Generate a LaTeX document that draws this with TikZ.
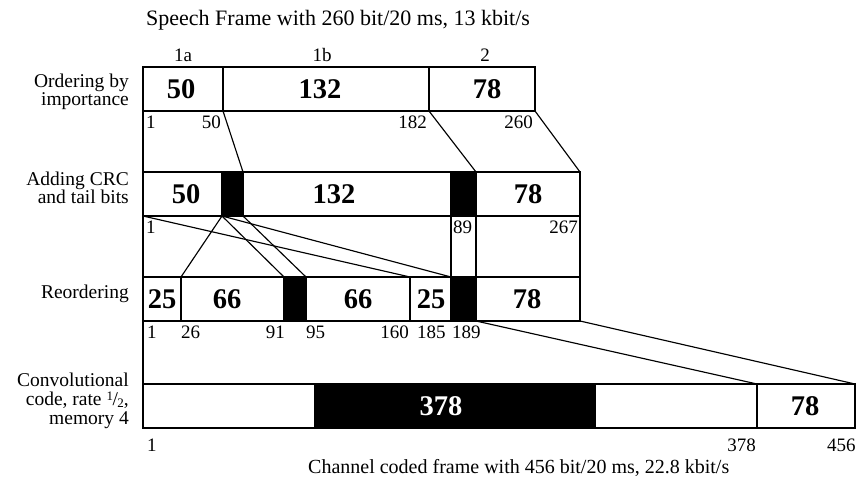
\documentclass[tikz,border=0pt]{standalone}
\usepackage{fontspec}
\setmainfont{Liberation Serif}
\newcommand\fsz[1]{\fontsize{#1}{#1}\selectfont}
\newcommand\halffrac{\raisebox{4.5pt}{\fsz{13}1}\kern-0.5pt/\kern-0.5pt\raisebox{-2pt}{\fsz{13}2}}
\tikzset{
  seg/.style={draw=black, line width=1.15pt, rectangle, inner sep=0pt, outer sep=0pt, anchor=north west, minimum height=44pt},
  blk/.style={seg, fill=black},
  num/.style={font=\fsz{28.5}\bfseries, inner sep=0pt, anchor=center},
  tick/.style={font=\fsz{19}, inner sep=0pt},
  lab/.style={font=\fsz{19.5}, inner sep=0pt, anchor=base east},
  conn/.style={line width=1.15pt},
}
\begin{document}
\begin{tikzpicture}[x=1pt,y=-1pt]
\useasboundingbox (0,0) rectangle (856,481);
% title
\node[font=\fsz{22}, inner sep=0pt, anchor=base west] (title) at (146,26) {Speech Frame with 260 bit/20 ms, 13 kbit/s};
\node[tick, anchor=base] (h1a) at (183,62) {1a};
\node[tick, anchor=base] (h1b) at (322,62) {1b};
\node[tick, anchor=base] (h2) at (485,62) {2};
% row 1
\node[seg, minimum width=80pt] (r1a) at (143,67) {};
\node[seg, minimum width=206pt] (r1b) at (223,67) {};
\node[seg, minimum width=106pt] (r1c) at (429,67) {};
\node[num] (n1a) at (181,89) {50};
\node[num] (n1b) at (320,89) {132};
\node[num] (n1c) at (487,89) {78};
\node[tick, anchor=base west] (t11) at (146,129) {1};
\node[tick, anchor=base east] (t12) at (221,129) {50};
\node[tick, anchor=base east] (t13) at (427,129) {182};
\node[tick, anchor=base east] (t14) at (533,129) {260};
% row 2
\node[seg, minimum width=79pt] (r2a) at (143,172) {};
\node[blk, minimum width=21pt] (r2k1) at (222,172) {};
\node[seg, minimum width=208pt] (r2b) at (243,172) {};
\node[blk, minimum width=25pt] (r2k2) at (451,172) {};
\node[seg, minimum width=104pt] (r2c) at (476,172) {};
\node[num] (n2a) at (186,194) {50};
\node[num] (n2b) at (334,194) {132};
\node[num] (n2c) at (528,194) {78};
\node[tick, anchor=base west] (t21) at (146,233) {1};
\node[tick, anchor=base west] (t22) at (453,233) {89};
\node[tick, anchor=base east] (t23) at (578,233) {267};
% row 3
\node[seg, minimum width=38pt] (r3a) at (143,277) {};
\node[seg, minimum width=103pt] (r3b) at (181,277) {};
\node[blk, minimum width=22pt] (r3k1) at (284,277) {};
\node[seg, minimum width=104pt] (r3c) at (306,277) {};
\node[seg, minimum width=41pt] (r3d) at (410,277) {};
\node[blk, minimum width=25pt] (r3k2) at (451,277) {};
\node[seg, minimum width=104pt] (r3e) at (476,277) {};
\node[num] (n3a) at (162,299) {25};
\node[num] (n3b) at (227,299) {66};
\node[num] (n3c) at (358,299) {66};
\node[num] (n3d) at (431,299) {25};
\node[num] (n3e) at (527,299) {78};
\node[tick, anchor=base west] (t31) at (147,338) {1};
\node[tick, anchor=base west] (t32) at (181,338) {26};
\node[tick, anchor=base east] (t33) at (285,338) {91};
\node[tick, anchor=base west] (t34) at (306,338) {95};
\node[tick, anchor=base east] (t35) at (409,338) {160};
\node[tick, anchor=base west] (t36) at (417,338) {185};
\node[tick, anchor=base west] (t37) at (452,338) {189};
% row 4
\node[seg, minimum width=172pt] (r4a) at (143,384) {};
\node[blk, minimum width=280pt] (r4k) at (315,384) {};
\node[seg, minimum width=162pt] (r4b) at (595,384) {};
\node[seg, minimum width=98pt] (r4c) at (757,384) {};
\node[num, text=white] (n4k) at (441,406) {378};
\node[num] (n4c) at (805,406) {78};
\node[tick, anchor=base west] (t41) at (147,451) {1};
\node[tick, anchor=base east] (t42) at (756,451) {378};
\node[tick, anchor=base west] (t43) at (827,451) {456};
\node[font=\fsz{20}, inner sep=0pt, anchor=base west] (cap) at (308,473) {Channel coded frame with 456 bit/20 ms, 22.8 kbit/s};
% row labels
\node[lab] (l1a) at (129,87.5) {Ordering by};
\node[lab] (l1b) at (129,105.5) {importance};
\node[lab] (l2a) at (129,185.5) {Adding CRC};
\node[lab] (l2b) at (129,203.5) {and tail bits};
\node[lab] (l3) at (129,298) {Reordering};
\node[lab] (l4a) at (129,386) {Convolutional};
\node[lab] (l4b) at (129,405) {code, rate \halffrac,};
\node[lab] (l4c) at (129,424) {memory 4};
% connectors
\draw[conn] (r1a.south west) -- (r2a.north west);
\draw[conn] (r2a.south west) -- (r3a.north west);
\draw[conn] (r3a.south west) -- (r4a.north west);
\draw[conn] (r1a.south east) -- (r2k1.north east);
\draw[conn] (r1b.south east) -- (r2k2.north east);
\draw[conn] (r1c.south east) -- (r2c.north east);
\draw[conn] (r2k2.south west) -- (r3k2.north west);
\draw[conn] (r2k2.south east) -- (r3k2.north east);
\draw[conn] (r2c.south east) -- (r3e.north east);
\draw[conn] (r2a.south west) -- (r3d.north west);
\draw[conn] (r2k1.south west) -- (r3b.north west);
\draw[conn] (r2k1.south west) -- (r3k1.north west);
\draw[conn] (r2k1.south east) -- (r3k1.north east);
\draw[conn] (r2k1.south west) -- (r3k2.north west);
\draw[conn] (r3k2.south east) -- (r4c.north west);
\draw[conn] (r3e.south east) -- (r4c.north east);
\end{tikzpicture}
\end{document}
